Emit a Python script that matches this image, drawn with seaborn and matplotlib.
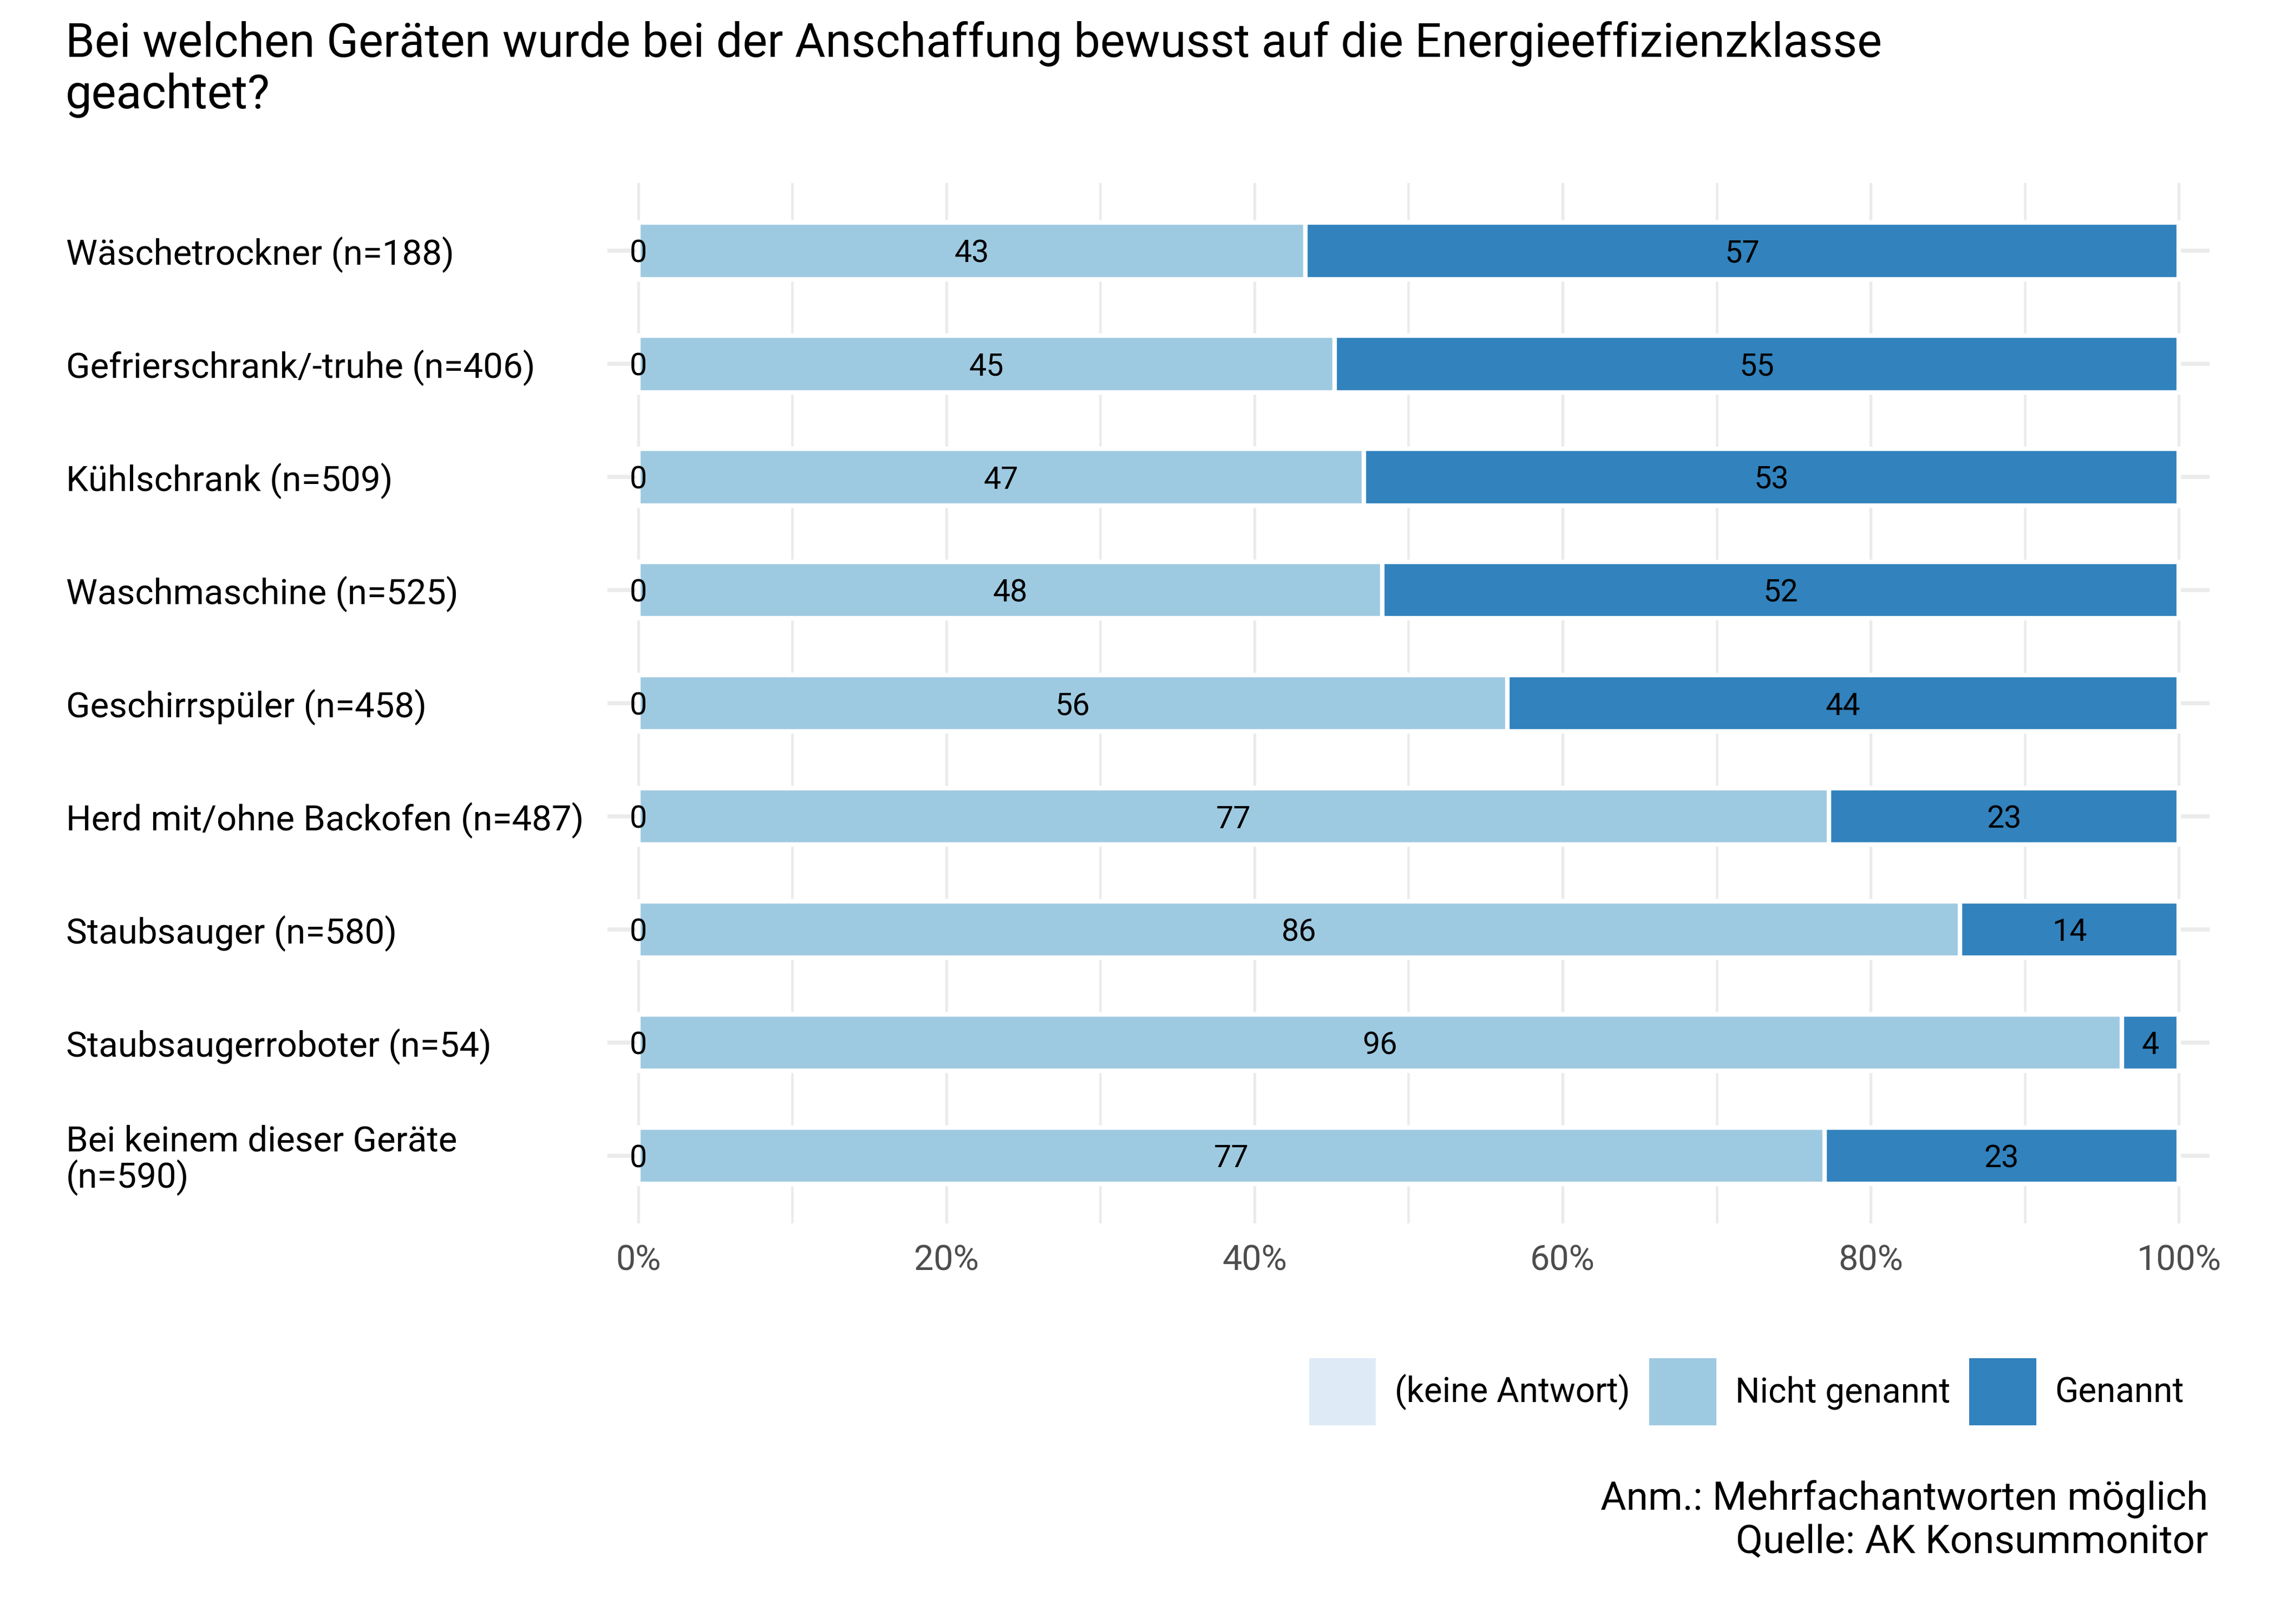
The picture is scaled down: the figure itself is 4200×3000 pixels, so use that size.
import numpy as np
import pandas as pd
import matplotlib
matplotlib.use("Agg")
import matplotlib.pyplot as plt
from matplotlib.patches import Patch
from matplotlib.ticker import MultipleLocator, FuncFormatter
import seaborn as sns

# data (shares in %)
geraete = [
    "Wäschetrockner (n=188)",
    "Gefrierschrank/-truhe (n=406)",
    "Kühlschrank (n=509)",
    "Waschmaschine (n=525)",
    "Geschirrspüler (n=458)",
    "Herd mit/ohne Backofen (n=487)",
    "Staubsauger (n=580)",
    "Staubsaugerroboter (n=54)",
    "Bei keinem dieser Geräte\n(n=590)",
]
keine_antwort = [0, 0, 0, 0, 0, 0, 0, 0, 0]
nicht_genannt = [43.3, 45.2, 47.1, 48.3, 56.4, 77.3, 85.8, 96.3, 77.0]
genannt = [56.7, 54.8, 52.9, 51.7, 43.6, 22.7, 14.2, 3.7, 23.0]

serien = ["(keine Antwort)", "Nicht genannt", "Genannt"]
farben = ["#DEEBF7", "#9ECAE1", "#3182BD"]

titel = ("Bei welchen Geräten wurde bei der Anschaffung bewusst auf die Energieeffizienzklasse\n"
         "geachtet?")
caption = "Anm.: Mehrfachantworten möglich\nQuelle: AK Konsummonitor"

sns.set_theme(style="whitegrid")
plt.rcParams["font.family"] = ["Roboto", "DejaVu Sans"]
plt.rcParams["text.color"] = "black"

df = pd.DataFrame({
    "geraet": geraete,
    "keine": keine_antwort,
    "nicht": nicht_genannt,
    "genannt": genannt,
})
df["cum_keine"] = df["keine"]
df["cum_nicht"] = df["keine"] + df["nicht"]
df["cum_gen"] = df["cum_nicht"] + df["genannt"]

fig, ax = plt.subplots(figsize=(14, 10), dpi=300)
fig.subplots_adjust(left=0.2671, right=0.9717, top=0.8873, bottom=0.2466)

# stacked bars drawn as layered cumulative bars
bar_kw = dict(orient="h", order=geraete, width=0.5, edgecolor="white",
              saturation=1, ax=ax)
sns.barplot(data=df, x="cum_gen", y="geraet", color=farben[2], linewidth=2.0, **bar_kw)
sns.barplot(data=df, x="cum_nicht", y="geraet", color=farben[1], linewidth=2.0, **bar_kw)
sns.barplot(data=df, x="cum_keine", y="geraet", color=farben[0], linewidth=0, **bar_kw)

# segment labels
for i, row in df.iterrows():
    starts = [0, row["cum_keine"], row["cum_nicht"]]
    werte = [row["keine"], row["nicht"], row["genannt"]]
    for s, w in zip(starts, werte):
        ax.text(s + w / 2, i, f"{int(round(w))}", ha="center", va="center_baseline",
                fontsize=13.8, color="black")

# axes styling
ax.set_xlim(-2, 102)
ax.set_ylim(len(geraete) - 1 + 0.6, -0.6)
ax.xaxis.set_major_locator(MultipleLocator(20))
ax.xaxis.set_minor_locator(MultipleLocator(10))
ax.xaxis.set_major_formatter(FuncFormatter(lambda v, p: f"{v:.0f}%"))
ax.set_axisbelow(True)
ax.grid(False)
ax.xaxis.grid(True, which="major", color="#EBEBEB", linewidth=1.3)
ax.xaxis.grid(True, which="minor", color="#EBEBEB", linewidth=1.1)
ax.yaxis.grid(True, which="major", color="#EBEBEB", linewidth=1.8)
for sp in ax.spines.values():
    sp.set_visible(False)
ax.set_xlabel("")
ax.set_ylabel("")
ax.tick_params(axis="x", which="both", length=0, pad=9, labelsize=15.5, labelcolor="#4D4D4D")
ax.tick_params(axis="y", length=0, pad=240, labelsize=15.7, labelcolor="black")
for lab in ax.get_yticklabels():
    lab.set_ha("left")
    lab.set_multialignment("left")
    lab.set_linespacing(1.04)

# title (baseline of last line) and caption
fig.text(0.0287, 0.9333, titel, ha="left", va="baseline", fontsize=20.8, linespacing=1.167)
fig.text(0.971, 0.0637, caption, ha="right", va="center", fontsize=17.5,
         multialignment="right", linespacing=1.18)

# legend
handles = [Patch(facecolor=c, edgecolor="none") for c in farben]
fig.legend(handles, serien, ncol=3, loc="center right", bbox_to_anchor=(0.9605, 0.143),
           frameon=False, fontsize=15.3, handlelength=1.94, handleheight=2.61,
           handletextpad=0.55, columnspacing=0.55, borderpad=0, borderaxespad=0)

fig.savefig("out.png", dpi=300)
